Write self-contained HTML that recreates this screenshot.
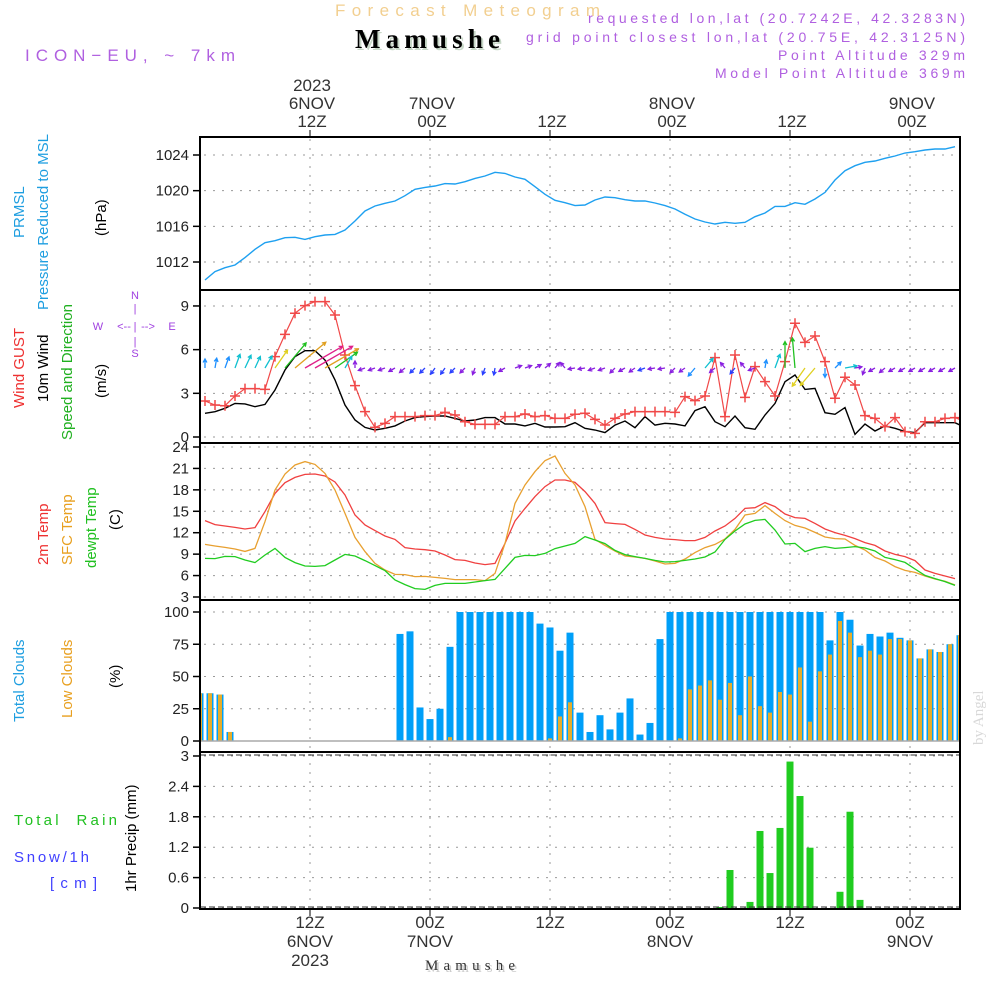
<!DOCTYPE html>
<html><head><meta charset="utf-8"><style>
body{margin:0;background:#fff;}
svg{display:block;font-family:"Liberation Sans",sans-serif;}
</style></head><body>
<svg id="chart" width="1000" height="1000" viewBox="0 0 1000 1000" xmlns="http://www.w3.org/2000/svg">
<defs><clipPath id="plotclip"><rect x="200" y="137" width="760" height="772"/></clipPath></defs>
<g id="header">
<text x="335" y="16" font-size="17" fill="#f2cf90" textLength="265" lengthAdjust="spacing">Forecast Meteogram</text>
<text x="357" y="50" font-size="27" font-weight="bold" font-family="Liberation Serif,serif" fill="#c8d8c8" textLength="145" lengthAdjust="spacing">Mamushe</text>
<text x="355" y="48" font-size="27" font-weight="bold" font-family="Liberation Serif,serif" fill="#000" textLength="145" lengthAdjust="spacing">Mamushe</text>
<text x="25" y="61" font-size="17" fill="#b060e0" textLength="210" lengthAdjust="spacing">ICON−EU, ~ 7km</text>
<g font-size="14" fill="#b060e0">
<text x="588" y="23" textLength="377" lengthAdjust="spacing">requested lon,lat (20.7242E, 42.3283N)</text>
<text x="526" y="42" textLength="439" lengthAdjust="spacing">grid point closest lon,lat (20.75E, 42.3125N)</text>
<text x="778" y="60" textLength="187" lengthAdjust="spacing">Point Altitude 329m</text>
<text x="715" y="78" textLength="250" lengthAdjust="spacing">Model Point Altitude 369m</text>
</g>
</g>
<g id="grid"></g>
<g id="series" clip-path="url(#plotclip)"></g>
<g id="frames"></g>
<g id="labels">
<g font-size="15">
<text transform="translate(24,238) rotate(-90)" fill="#1e9ee0">PRMSL</text>
<text transform="translate(48,310) rotate(-90)" fill="#1e9ee0">Pressure Reduced to MSL</text>
<text transform="translate(106,236) rotate(-90)" fill="#000">(hPa)</text>
<text transform="translate(24,408) rotate(-90)" fill="#ee3030">Wind GUST</text>
<text transform="translate(48,402) rotate(-90)" fill="#000">10m Wind</text>
<text transform="translate(72,440) rotate(-90)" fill="#20b020">Speed and Direction</text>
<text transform="translate(106,398) rotate(-90)" fill="#000">(m/s)</text>
<text transform="translate(48,565) rotate(-90)" fill="#ee3030">2m Temp</text>
<text transform="translate(72,565) rotate(-90)" fill="#e8a020">SFC Temp</text>
<text transform="translate(96,568) rotate(-90)" fill="#20c020">dewpt Temp</text>
<text transform="translate(120,530) rotate(-90)" fill="#000">(C)</text>
<text transform="translate(24,722) rotate(-90)" fill="#1e9ee0">Total Clouds</text>
<text transform="translate(72,718) rotate(-90)" fill="#e8a020">Low Clouds</text>
<text transform="translate(120,688) rotate(-90)" fill="#000">(%)</text>
<text x="14" y="825" fill="#20c020" xml:space="preserve" textLength="103" lengthAdjust="spacing">Total  Rain</text>
<text x="14" y="862" fill="#4040ff" textLength="75" lengthAdjust="spacing">Snow/1h</text>
<text x="50" y="888" fill="#4040ff" textLength="47" lengthAdjust="spacing">[cm]</text>
<text transform="translate(136,892) rotate(-90)" fill="#000">1hr Precip (mm)</text>
</g>
<g font-size="11" fill="#a040e0" text-anchor="middle">
<text x="135" y="299">N</text><text x="135" y="312">|</text>
<text x="98" y="330">W</text><text x="124" y="330">&lt;--</text><text x="135" y="330">|</text><text x="148" y="330">--&gt;</text><text x="172" y="330">E</text>
<text x="135" y="345">|</text><text x="135" y="357">S</text>
</g>
<text transform="translate(983,745) rotate(-90)" font-size="15" font-family="Liberation Serif,serif" fill="#d8d8d8">by Angel</text>
<text x="427" y="972" font-size="15" font-family="Liberation Serif,serif" fill="#ccc" textLength="90" lengthAdjust="spacing">Mamushe</text>
<text x="425" y="970" font-size="15" font-family="Liberation Serif,serif" fill="#333" textLength="90" lengthAdjust="spacing">Mamushe</text>
</g>
<g id="timelabels" font-size="17" fill="#333" text-anchor="middle"></g>
</svg>
<script>
const presVals=[1009.98,1010.92,1011.36,1011.66,1012.49,1013.42,1014.17,1014.39,1014.73,1014.77,1014.54,1014.84,1015.03,1015.1,1015.59,1016.6,1017.72,1018.28,1018.58,1018.84,1019.44,1020.15,1020.37,1020.52,1020.79,1020.75,1021.01,1021.38,1021.64,1022.06,1021.94,1021.53,1021.27,1020.45,1019.59,1018.92,1018.65,1018.32,1018.39,1018.95,1019.29,1019.21,1018.99,1018.84,1018.84,1018.62,1018.32,1017.94,1017.35,1016.82,1016.49,1016.26,1016.45,1016.34,1016.45,1017.08,1017.5,1018.24,1018.24,1018.65,1018.47,1019.07,1019.81,1021.2,1022.24,1022.8,1023.18,1023.33,1023.63,1023.89,1024.22,1024.37,1024.56,1024.67,1024.67,1024.93];
const gustVals=[2.47,2.2,2.15,2.82,3.32,3.32,3.27,5.52,7.05,8.5,9.02,9.3,9.3,8.38,5.63,3.53,1.74,0.66,0.94,1.4,1.4,1.4,1.47,1.47,1.69,1.51,1.05,0.87,0.87,0.87,1.4,1.4,1.58,1.4,1.47,1.28,1.28,1.56,1.63,1.21,0.82,1.28,1.58,1.74,1.74,1.74,1.74,1.69,2.77,2.5,2.82,5.45,1.4,5.63,2.72,4.83,3.8,2.82,5.18,7.81,6.5,6.94,5.18,2.66,4.1,3.57,1.47,1.28,0.71,1.33,0.37,0.25,1.05,1.05,1.28,1.33,1.05];
const windVals=[1.63,1.74,1.97,2.31,2.27,2.08,2.24,3.23,4.6,5.52,5.93,5.93,5.29,3.92,2.2,1.17,0.66,0.48,0.6,0.76,1.1,1.33,1.4,1.44,1.44,1.28,1.1,1.17,1.33,1.33,0.89,0.89,0.76,0.94,0.69,0.69,0.71,0.98,0.6,0.48,0.3,0.82,1.1,0.64,1.4,0.82,0.94,0.89,0.76,1.81,2.08,1.05,0.71,1.44,0.64,0.53,1.51,2.31,3.8,4.26,3.27,3.34,1.67,1.56,2.02,0.18,0.89,0.41,0.76,0.6,0.37,0.3,0.98,0.98,0.98,0.98,0.66];
const windDirs=[0,10,20,20,25,25,30,35,40,50,60,60,60,55,30,0,250,250,250,240,230,225,225,215,215,225,225,200,200,190,240,70,70,60,50,40,320,260,260,250,250,225,240,235,250,260,260,225,235,220,40,230,320,220,320,250,10,20,0,355,215,220,180,45,80,80,200,240,230,240,240,240,240,240,240,240];
const temp2mVals=[13.69,13.13,12.94,12.75,12.52,12.71,14.95,17.51,19.0,19.75,20.17,20.22,19.94,19.1,17.28,14.48,13.08,12.29,11.54,11.07,9.91,9.72,9.62,9.44,8.88,8.23,8.13,7.76,7.53,7.71,10.51,13.64,15.41,17.05,18.45,19.38,19.38,19.05,17.75,16.1,13.41,13.27,13.17,12.47,11.68,11.35,11.12,11.03,10.89,10.89,11.35,12.24,12.94,14.01,15.41,15.5,16.21,15.65,14.62,14.11,14.01,13.31,12.52,12.01,11.63,11.17,10.61,10.23,9.44,8.97,8.65,8.09,6.78,6.31,5.94,5.57];
const sfcTempVals=[10.37,10.14,9.95,9.72,9.39,9.81,13.55,17.98,20.22,21.48,21.95,21.57,20.31,17.98,14.71,11.35,9.35,7.71,6.78,6.17,6.13,5.85,5.89,5.75,5.61,5.43,5.43,5.43,5.29,6.31,10.51,16.11,18.68,20.55,22.09,22.74,20.31,18.68,15.65,11.07,10.23,9.44,8.74,8.6,8.41,8.04,7.62,7.71,8.32,9.21,9.91,10.37,11.12,12.47,14.48,14.71,15.79,14.71,13.69,13.03,12.66,12.05,11.4,11.17,11.12,10.23,9.58,8.55,8.04,7.25,6.73,6.45,5.94,5.52,5.2,4.68];
const dewVals=[8.41,8.37,8.69,8.65,8.18,7.81,8.88,9.81,8.55,7.81,7.34,7.29,7.39,8.18,8.97,8.74,8.09,7.39,6.69,5.38,4.73,4.17,4.07,4.63,4.91,4.91,4.91,5.1,5.29,5.47,7.01,8.55,8.83,8.79,9.11,9.77,10.14,10.51,11.45,10.98,10.47,9.53,8.93,8.65,8.41,8.13,7.9,7.95,8.13,8.32,8.6,9.3,11.07,12.24,13.22,13.73,13.87,12.38,10.42,10.51,9.35,9.81,10.05,9.81,9.91,10.05,9.86,9.44,8.55,8.23,7.85,6.92,6.03,5.57,5.15,4.63];
const totalCloudVals=[37,37,36,7,0,0,0,0,0,0,0,0,0,0,0,0,0,0,0,0,83,85,26,17,25,73,100,100,100,100,100,100,100,100,91,88,70,84,22,7,20,9,22,33,5,14,79,100,100,100,100,100,100,100,100,100,100,100,100,100,100,100,100,78,100,94,74,83,81,84,80,78,64,71,69,75,82];
const lowCloudVals=[37,37,36,7,0,0,0,0,0,0,0,0,0,0,0,0,0,0,0,0,0,0,0,0,0,3,0,0,0,0,0,0,0,0,0,2,19,30,0,0,0,0,0,0,0,0,0,0,2,40,43,47,32,45,20,50,27,22,38,36,57,15,54,67,93,84,65,70,67,79,79,78,64,71,69,75,82];
const precipVals=[0,0,0,0,0,0,0,0,0,0,0,0,0,0,0,0,0,0,0,0,0,0,0,0,0,0,0,0,0,0,0,0,0,0,0,0,0,0,0,0,0,0,0,0,0,0,0,0,0,0,0,0,0.02,0.75,0,0.12,1.52,0.69,1.58,2.89,2.21,1.19,0,0,0.32,1.9,0.16,0,0,0,0,0,0,0,0,0,0];
const presTicks=[1012,1016,1020,1024];
const windTicks=[0,3,6,9];
const tempTicks=[3,6,9,12,15,18,21,24];
const cloudTicks=[0,25,50,75,100];
const precipTicks=[0,0.6,1.2,1.8,2.4,3];
const topTimeLabels=[["2023","6NOV","12Z"],["","7NOV","00Z"],["","","12Z"],["","8NOV","00Z"],["","","12Z"],["","9NOV","00Z"]];
const bottomTimeLabels=[["12Z","6NOV","2023"],["00Z","7NOV",""],["12Z","",""],["00Z","8NOV",""],["12Z","",""],["00Z","9NOV",""]];

const NS="http://www.w3.org/2000/svg";
const X0=200,X1=960;
const xLine=k=>205+10*k;
const xBar=i=>200+10*i;
const yP=p=>155+(1024-p)*8.917;
const yW=v=>437-v*14.56;
const yT=t=>597-(t-3)*7.143;
const yC=c=>741-c*1.29;
const yR=r=>908-r*50.67;
const gridX=[310,430,550,670,790,910];
const panels=[[137,290],[290,443],[443,600],[600,752],[752,909]];
function mk(tag,attrs,parent){const e=document.createElementNS(NS,tag);for(const k in attrs)e.setAttribute(k,attrs[k]);parent.appendChild(e);return e;}
const grid=document.getElementById('grid'),series=document.getElementById('series'),frames=document.getElementById('frames');

panels.forEach(([a,b])=>{gridX.forEach(x=>{const l=mk('line',{x1:x,x2:x,y1:a+2,y2:b-2,stroke:'#999','stroke-dasharray':'2 7'},grid);

});});
function yAxis(ticks,fy,fmt){ticks.forEach(t=>{const y=fy(t);
const g=mk('line',{x1:X0+4,x2:X1,y1:y,y2:y,stroke:'#999','stroke-dasharray':'2 7'},grid);


mk('line',{x1:X0-7,x2:X0,y1:y,y2:y,stroke:'#000','stroke-width':1.5},grid);
const tx=mk('text',{x:189,y:y+5,'text-anchor':'end','font-size':15,fill:'#222'},grid);


tx.textContent=fmt?fmt(t):t;});}
yAxis(presTicks,yP);yAxis(windTicks,yW);yAxis(tempTicks,yT);yAxis(cloudTicks,yC);yAxis(precipTicks,yR,t=>t===0||t===3?String(t):t.toFixed(1));
panels.forEach(([a,b])=>{const r=mk('rect',{x:X0,y:a,width:X1-X0,height:b-a,fill:'none',stroke:'#000','stroke-width':2},frames);

});
gridX.forEach(x=>{mk('line',{x1:x,x2:x,y1:130,y2:137,stroke:'#000'},frames);mk('line',{x1:x,x2:x,y1:909,y2:916,stroke:'#000'},frames);});

const tl=document.getElementById('timelabels');
topTimeLabels.forEach((lines,i)=>{lines.forEach((s,j)=>{if(!s)return;const t=mk('text',{x:gridX[i]+2,y:91+j*18},tl);


t.textContent=s;});});
bottomTimeLabels.forEach((lines,i)=>{lines.forEach((s,j)=>{if(!s)return;const t=mk('text',{x:gridX[i],y:928+j*19},tl);


t.textContent=s;});});

function line(vals,fy,color,name,w){const pts=vals.map((v,k)=>xLine(k)+','+fy(v).toFixed(1)).join(' ');
const p=mk('polyline',{points:pts,fill:'none',stroke:color,'stroke-width':w||1.3},series);

return p;}

line(presVals,yP,'#1ea0f0','pressure-line',1.4);

totalCloudVals.forEach((c,i)=>{if(c<=0)return;const r=mk('rect',{x:xBar(i)-3.5,y:yC(c),width:7,height:741-yC(c),fill:'#009ff8'},series);

});
lowCloudVals.forEach((c,i)=>{if(c<=0)return;const r=mk('rect',{x:xBar(i)-2,y:yC(c),width:4,height:741-yC(c),fill:'#e6ad2c'},series);

});
mk('line',{x1:X0,x2:X1,y1:741,y2:741,stroke:'#aaa','stroke-width':1.5},series);
precipVals.forEach((r,i)=>{if(r<=0)return;const b=mk('rect',{x:xBar(i)-3.5,y:yR(r),width:7,height:908-yR(r),fill:'#20cc20'},series);

});
mk('line',{x1:X0,x2:X1,y1:907,y2:907,stroke:'#333','stroke-dasharray':'6 3'},series);
mk('line',{x1:X0,x2:X1,y1:755,y2:755,stroke:'#333','stroke-dasharray':'6 3'},series);

line(temp2mVals,yT,'#f04040','temp-2m-line');
line(sfcTempVals,yT,'#e8a030','sfc-temp-line');
line(dewVals,yT,'#20cc20','dewpoint-line');

line(windVals,yW,'#000','wind-10m-line',1.4);
line(gustVals,yW,'#f04848','wind-gust-line',1.2);
gustVals.forEach((v,k)=>{const x=xLine(k),y=yW(v);
const m=mk('path',{d:`M${x-5},${y}h10M${x},${y-5}v10`,stroke:'#f04848','stroke-width':1.5},series);

});
function spdColor(s){if(s<1.2)return '#8a20e0';if(s<1.5)return '#2a40ff';if(s<2.0)return '#1e90ff';if(s<2.6)return '#10c0d0';if(s<3.6)return '#e0d020';if(s<4.8)return '#20c020';if(s<5.6)return '#e0a020';if(s<5.9)return '#f03040';return '#e0208a';}
windDirs.forEach((d,k)=>{const s=windVals[k];const L=Math.max(7,4+8*(s-1));const a=d*Math.PI/180;
const x=xLine(k),y=368;const tx=x+L*Math.sin(a),ty=y-L*Math.cos(a);
const h=4,b1=a+Math.PI-0.5,b2=a+Math.PI+0.5;
const c=spdColor(s);
const p=mk('path',{d:`M${x},${y}L${tx.toFixed(1)},${ty.toFixed(1)}M${(tx+h*Math.sin(b1)).toFixed(1)},${(ty-h*Math.cos(b1)).toFixed(1)}L${tx.toFixed(1)},${ty.toFixed(1)}L${(tx+h*Math.sin(b2)).toFixed(1)},${(ty-h*Math.cos(b2)).toFixed(1)}`,stroke:c,'stroke-width':1.3,fill:'none'},series);

});
</script>
</body></html>
